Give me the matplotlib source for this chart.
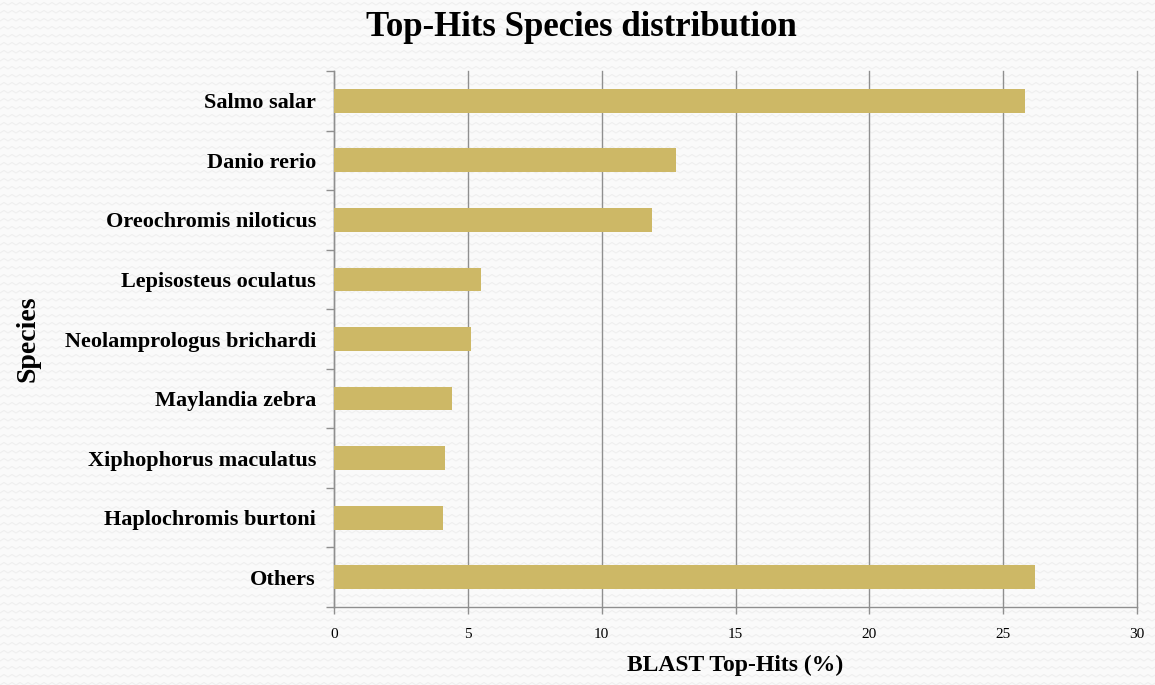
import numpy as np
import matplotlib
matplotlib.use("Agg")
import matplotlib.pyplot as plt

species = [
    "Salmo salar",
    "Danio rerio",
    "Oreochromis niloticus",
    "Lepisosteus oculatus",
    "Neolamprologus brichardi",
    "Maylandia zebra",
    "Xiphophorus maculatus",
    "Haplochromis burtoni",
    "Others",
]
top_hits_pct = [25.8, 12.78, 11.88, 5.5, 5.12, 4.42, 4.15, 4.07, 26.2]
x_ticks = [0, 5, 10, 15, 20, 25, 30]

plt.rcParams["font.family"] = ["Liberation Serif", "DejaVu Serif"]

W, H = 1155, 685
fig = plt.figure(figsize=(W / 100, H / 100), dpi=100)
fig.patch.set_facecolor("#fafafa")

# faint zigzag texture behind everything
bg = fig.add_axes([0, 0, 1, 1], zorder=-10)
bg.set_xlim(0, W)
bg.set_ylim(0, H)
bg.axis("off")
zx = np.arange(0, W + 8, 4)
for row in np.arange(0, H + 8, 8):
    zy = row + np.where((zx // 4) % 2 == 0, 0, 2.5)
    bg.plot(zx, zy, color="#efefef", lw=0.8, zorder=-10)

ax = fig.add_axes([334 / W, 1 - 607 / H, (1137 - 334) / W, (607 - 71) / H])
ax.set_facecolor("none")

ypos = np.arange(len(species))
ax.barh(ypos, top_hits_pct, height=0.4, color="#cdb866", zorder=3)

ax.set_ylim(len(species) - 0.5, -0.5)
ax.set_xlim(0, 30)
ax.set_xticks(x_ticks)
ax.set_xticklabels([str(t) for t in x_ticks], fontsize=11)
ax.set_yticks(ypos)
ax.set_yticklabels(species, fontsize=16, fontweight="bold")
ax.set_yticks(np.arange(-0.5, len(species), 1.0), minor=True)

ax.grid(axis="x", color="#8f8f8f", lw=1.0, zorder=1)
for gl in ax.get_xgridlines():
    gl.set_clip_on(False)
ax.tick_params(axis="y", which="major", length=0, pad=20)
ax.tick_params(axis="y", which="minor", length=6, color="#8f8f8f", width=1.0)
ax.tick_params(axis="x", length=5, color="#8f8f8f", width=1.0, pad=10)
for lbl in ax.get_yticklabels():
    lbl.set_x(-0.0)
ax.tick_params(axis="y", which="major", pad=13)

for side in ("top", "right"):
    ax.spines[side].set_visible(False)
for side in ("left", "bottom"):
    ax.spines[side].set_color("#8f8f8f")
    ax.spines[side].set_linewidth(1.0)

ax.set_xlabel("BLAST Top-Hits (%)", fontsize=17, fontweight="bold", labelpad=10)
ax.set_ylabel("Species", fontsize=20, fontweight="bold")
ax.yaxis.set_label_coords(-(334 - 41) / (1137 - 334), 0.5)

fig.text(0.5 * (363 + 800) / W, 1 - 28 / H, "Top-Hits Species distribution",
         fontsize=25, fontweight="bold", ha="center", va="center")

fig.savefig("out.png", dpi=100, facecolor=fig.get_facecolor())
